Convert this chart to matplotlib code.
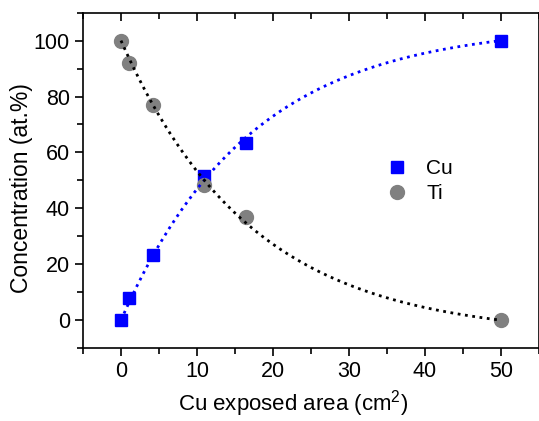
"""Cu / Ti concentration vs exposed Cu area"""
import numpy as np
import matplotlib.pyplot as plt
from matplotlib.ticker import MultipleLocator

plt.rcParams['font.family'] = ['Liberation Sans', 'DejaVu Sans']
plt.rcParams['mathtext.fontset'] = 'custom'
plt.rcParams['mathtext.rm'] = 'Liberation Sans'

# data
area = [0.0, 1.1, 4.2, 10.9, 16.4, 50.0]
cu = [0.0, 8.0, 23.3, 51.5, 63.3, 100.0]
ti = [100.0, 92.0, 77.0, 48.5, 37.0, 0.0]


def fit_exp(x, y):
    # exponential through the two end points, tau picked by least squares
    x = np.asarray(x)
    y = np.asarray(y)
    x0, x1, y0, y1 = x[0], x[-1], y[0], y[-1]

    def model(t, tau):
        return y0 + (y1 - y0) * (1 - np.exp(-(t - x0) / tau)) / (1 - np.exp(-(x1 - x0) / tau))

    taus = np.linspace(2, 80, 800)
    errs = [np.sum((model(x, tau) - y) ** 2) for tau in taus]
    tau = taus[int(np.argmin(errs))]
    return lambda t: model(t, tau)


fig = plt.figure(figsize=(5.39, 4.21), dpi=100)
ax = fig.add_axes([0.154, 0.173, 0.846, 0.797])

xs = np.linspace(0, 50, 300)
ax.plot(xs, fit_exp(area, cu)(xs), ':', color='#0000ff', lw=2, zorder=3)
ax.plot(xs, fit_exp(area, ti)(xs), ':', color='black', lw=2, zorder=3)

ax.plot(area, cu, 's', color='#0000ff', ms=9, label='Cu', zorder=2)
ax.plot(area, ti, 'o', color='#808080', ms=10, label='Ti', zorder=2)

ax.set_xlim(-5, 55)
ax.set_ylim(-10, 110)
ax.xaxis.set_major_locator(MultipleLocator(10))
ax.xaxis.set_minor_locator(MultipleLocator(5))
ax.yaxis.set_major_locator(MultipleLocator(20))
ax.yaxis.set_minor_locator(MultipleLocator(10))
ax.tick_params(which='both', direction='out', labelsize=15.5, width=1.2)
ax.tick_params(which='major', length=6)
ax.tick_params(which='minor', length=4)
ax.tick_params(which='both', top=True, right=True)
for t in ax.xaxis.get_ticklines(minor=False)[1::2] + ax.xaxis.get_ticklines(minor=True)[1::2]:
    t.set_marker(3)  # top ticks pointing in
for t in ax.yaxis.get_ticklines(minor=False)[1::2] + ax.yaxis.get_ticklines(minor=True)[1::2]:
    t.set_marker(1)  # right ticks pointing in
for s in ax.spines.values():
    s.set_linewidth(1.2)

ax.set_xlabel('Cu exposed area (cm$^{\\mathrm{2}}$)', fontsize=16)
ax.set_ylabel('Concentration (at.%)', fontsize=16.5)
ax.xaxis.label.set(ha='center', va='center')
ax.xaxis.set_label_coords(0.46, -0.166)
ax.yaxis.label.set(ha='center', va='center', rotation_mode='default')
ax.yaxis.set_label_coords(-0.134, 0.478)

ax.legend(loc='upper left', bbox_to_anchor=(0.625, 0.62), frameon=False,
          fontsize=15, handlelength=1.0, handletextpad=0.9, labelspacing=0.3)

fig.savefig('out.png', dpi=100)
